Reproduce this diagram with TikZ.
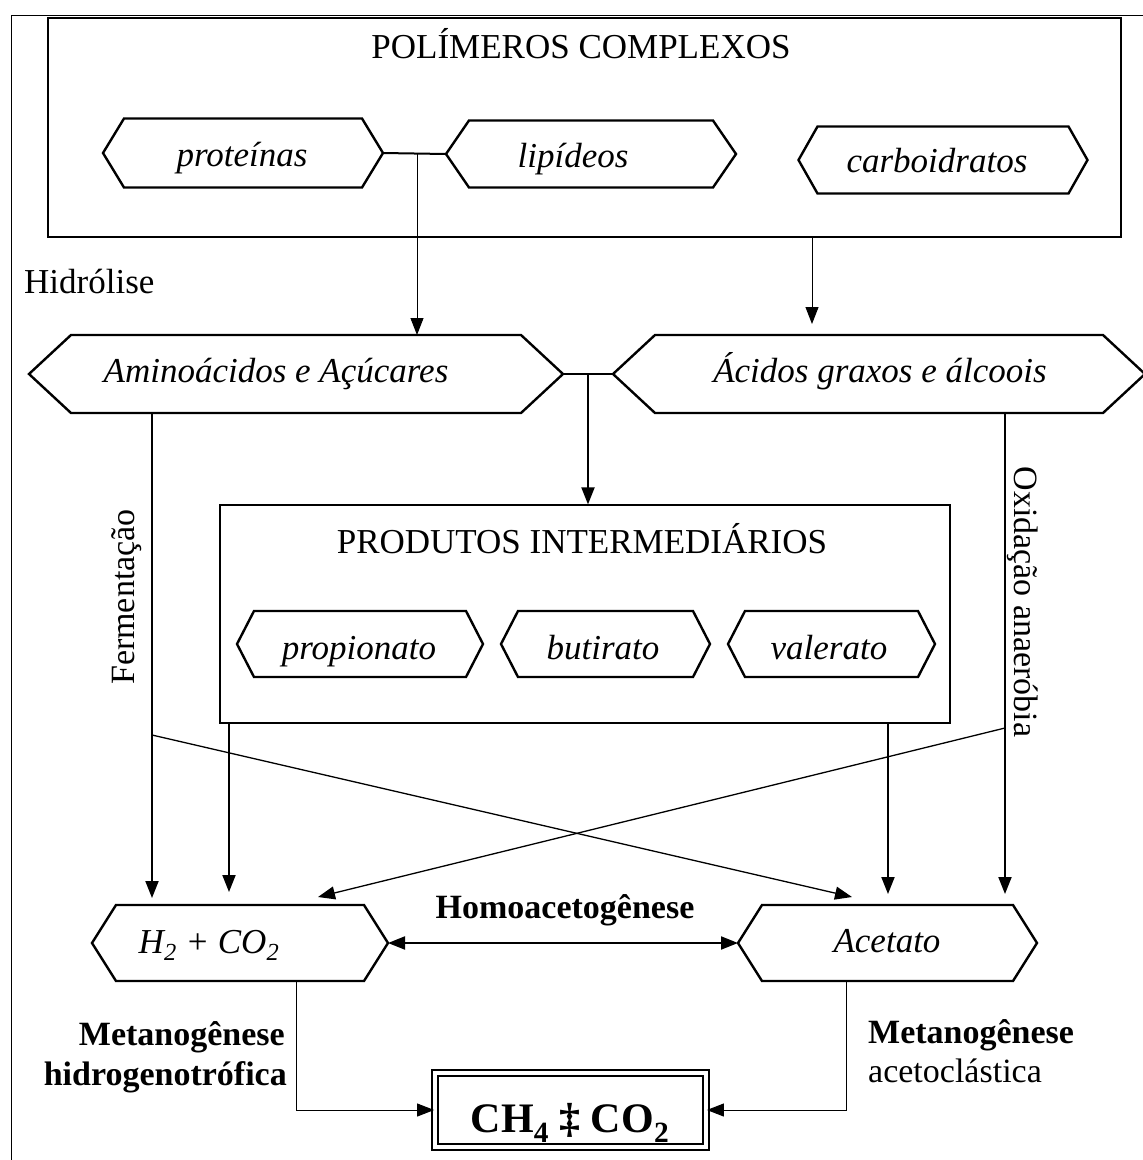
\documentclass[tikz,border=0pt]{standalone}
\usepackage{fontspec}
\setmainfont{Liberation Serif}
\usetikzlibrary{arrows.meta}
\newcommand\hexshape[6]{%
  \node[inner sep=0pt, outer sep=0pt, minimum width=#4pt, minimum height=#5pt] (#1) at (#2,#3) {};
  \draw[hexline] (#1.west) -- ([xshift=#6pt]#1.north west) -- ([xshift=-#6pt]#1.north east) -- (#1.east) -- ([xshift=-#6pt]#1.south east) -- ([xshift=#6pt]#1.south west) -- cycle;}
\begin{document}
\begin{tikzpicture}[x=1pt,y=-1pt,
  txt/.style={font=\fontsize{35}{40}\selectfont, inner sep=0pt, anchor=base},
  itxt/.style={font=\fontsize{35}{40}\selectfont\itshape, inner sep=0pt, anchor=base},
  btxt/.style={font=\fontsize{34}{40}\selectfont\bfseries, inner sep=0pt, anchor=base},
  rtxt/.style={font=\fontsize{34}{40}\selectfont, inner sep=0pt, anchor=base},
  hexline/.style={line width=2.4pt, line join=miter},
  boxst/.style={draw, line width=1.2pt, inner sep=0pt},
  tip/.style={-{Triangle[length=17pt,width=13pt]}},
  conn/.style={line width=2pt, tip},
  thinconn/.style={line width=1pt, tip},
  diag/.style={line width=1.3pt, tip}]
\useasboundingbox (0,0) rectangle (1143,1160);
\fill[white] (0,0) rectangle (1143,1160);
% outer frame
\draw[line width=1pt] (11,1160) -- (11,15) -- (1143,15);
% boxes
\node[boxst, minimum width=1073pt, minimum height=219pt] (polbox) at (584.5,127.5) {};
\node[boxst, minimum width=730pt, minimum height=218pt] (prodbox) at (585,614) {};
\node[txt] (poltitle) at (581,58) {POLÍMEROS COMPLEXOS};
\node[txt] (prodtitle) at (582,553) {PRODUTOS INTERMEDIÁRIOS};
% hexagons
\hexshape{prot}{243}{153}{280}{69}{21}
\hexshape{lip}{591}{154}{290}{67}{23}
\hexshape{carb}{943}{160}{289}{67}{19}
\hexshape{amino}{296}{374}{534}{78}{42}
\hexshape{acid}{879}{374}{532}{78}{42}
\hexshape{prop}{360}{644}{246}{66}{17}
\hexshape{but}{605.5}{644}{209}{66}{17}
\hexshape{val}{831.5}{644}{207}{66}{17}
\hexshape{htwo}{240}{943}{296}{76}{24}
\hexshape{acet}{887.5}{943}{299}{76}{24}
% hexagon texts
\node[itxt] (protT) at (242,166) {proteínas};
\node[itxt] (lipT) at (573,167) {lipídeos};
\node[itxt] (carbT) at (937,172) {carboidratos};
\node[itxt] (aminoT) at (276,382) {Aminoácidos e Açúcares};
\node[itxt] (acidT) at (880,382) {Ácidos graxos e álcoois};
\node[itxt] (propT) at (359,659) {propionato};
\node[itxt] (butT) at (603,659) {butirato};
\node[itxt] (valT) at (829,659) {valerato};
\node[itxt] (htwoT) at (209,953) {H\textsubscript{2} + CO\textsubscript{2}};
\node[itxt] (acetT) at (887,952) {Acetato};
% CH4 box
\node[draw, line width=1.8pt, double, double distance=3.5pt, minimum width=271pt, minimum height=74pt, inner sep=0pt] (ch4) at (570.5,1110) {};
\node[font=\fontsize{42}{46}\selectfont\bfseries, inner sep=0pt, anchor=base] (ch4T) at (570,1132) {CH\textsubscript{4} ‡ CO\textsubscript{2}};
% labels
\node[txt, anchor=base west] (hidr) at (24,293) {Hidrólise};
\node[btxt] (homo) at (565,918) {Homoacetogênese};
\node[rtxt, rotate=90, anchor=center] (ferm) at (127,597) {Fermentação};
\node[rtxt, rotate=-90, anchor=center] (oxid) at (1023,602) {Oxidação anaeróbia};
\node[btxt, anchor=base east] (metL1) at (285,1045) {Metanogênese};
\node[btxt, anchor=base east] (metL2) at (287,1085) {hidrogenotrófica};
\node[btxt, anchor=base west] (metR1) at (868,1043) {Metanogênese};
\node[rtxt, anchor=base west] (metR2) at (868,1082) {acetoclástica};
% connectors: top level
\draw[line width=2pt] (prot.east) -- (lip.west);
\coordinate (j1) at (417,153);
\draw[thinconn] (j1) -- (j1 |- amino.north);
\coordinate (c1) at (812,237);
\draw[thinconn, shorten >=11pt] (c1) -- (c1 |- acid.north);
\draw[line width=2pt] (amino.east) -- (acid.west);
\coordinate (j2) at (588,374);
\draw[conn] (j2) -- (j2 |- prodbox.north);
% down to H2 and acetate
\coordinate (a1) at (152,413);
\draw[conn, shorten >=7pt] (a1) -- (a1 |- htwo.north);
\coordinate (p1) at (229,723);
\draw[conn, shorten >=13pt] (p1) -- (p1 |- htwo.north);
\coordinate (p2) at (888,723);
\draw[conn, shorten >=11pt] (p2) -- (p2 |- acet.north);
\coordinate (a2) at (1005,412);
\draw[conn, shorten >=11pt] (a2) -- (a2 |- acet.north);
% diagonals
\coordinate (d1) at (152,735);
\coordinate (d1e) at (852,897);
\draw[diag] (d1) -- (d1e);
\coordinate (d2) at (1005,728);
\coordinate (d2e) at (318,897);
\draw[diag] (d2) -- (d2e);
% homoacetogenesis
\draw[line width=2pt, {Triangle[length=17pt,width=13pt]}-{Triangle[length=17pt,width=13pt]}] (htwo.east) -- (acet.west);
% methanogenesis
\coordinate (m1) at (296,982);
\draw[thinconn] (m1) -- (m1 |- ch4.west) -- (ch4.west);
\coordinate (m2) at (846,981);
\draw[thinconn] (m2) -- (m2 |- ch4.east) -- (ch4.east);
\end{tikzpicture}
\end{document}
